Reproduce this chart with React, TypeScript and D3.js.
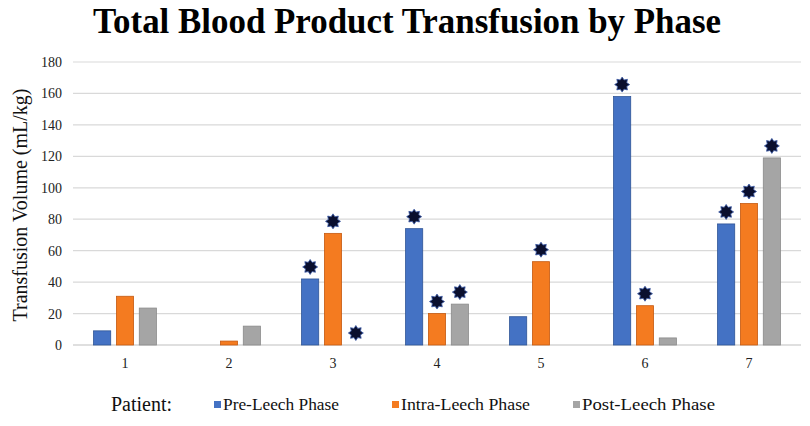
import { useEffect, useRef } from 'react'
import * as d3 from 'd3'

const patients = ['1', '2', '3', '4', '5', '6', '7']
const phases = ['Pre-Leech Phase', 'Intra-Leech Phase', 'Post-Leech Phase']
const preLeech = [9, 0, 42, 74, 18, 158, 77]
const intraLeech = [31, 2.5, 71, 20, 53, 25, 90]
const postLeech = [23.5, 12, 0, 26, 0, 4.5, 119]
// which bars carry a star marker
const preStar = [false, false, true, true, false, true, true]
const intraStar = [false, false, true, true, true, true, true]
const postStar = [false, false, true, true, false, false, true]
const yTicks = [0, 20, 40, 60, 80, 100, 120, 140, 160, 180]
const colors = ['#4472C4', '#F47B20', '#A5A5A5']
const strokes = ['#2f5597', '#c55a11', '#8a8a8a']

const W = 810
const H = 426
const serif = 'Liberation Serif, DejaVu Serif, serif'

export default function App() {
  const svgRef = useRef<SVGSVGElement>(null)

  useEffect(() => {
    document.body.style.margin = '0'
    if (!svgRef.current) return
    const svg = d3.select(svgRef.current)
    svg.selectAll('*').remove()

    const margin = { top: 62, right: 9, bottom: 81, left: 73 }
    const x0 = d3.scaleBand().domain(patients).range([margin.left, W - margin.right])
    const x1 = d3
      .scaleBand()
      .domain(phases)
      .range([0, x0.bandwidth()])
      .paddingInner(0.25)
      .paddingOuter(0.9)
    const y = d3
      .scaleLinear()
      .domain([0, 180])
      .range([H - margin.bottom, margin.top])

    svg.attr('width', W).attr('height', H).style('display', 'block').style('background', '#fff')

    // Title
    svg.append('text')
      .attr('x', 407)
      .attr('y', 33)
      .attr('text-anchor', 'middle')
      .style('font-family', serif)
      .style('font-weight', 'bold')
      .style('font-size', '36px')
      .attr('textLength', 628)
      .attr('lengthAdjust', 'spacingAndGlyphs')
      .text('Total Blood Product Transfusion by Phase')

    // Grid lines
    svg.append('g')
      .selectAll('line')
      .data(yTicks)
      .enter()
      .append('line')
      .attr('x1', margin.left)
      .attr('x2', W - margin.right)
      .attr('y1', d => y(d))
      .attr('y2', d => y(d))
      .attr('stroke', d => (d === 0 ? '#bfbfbf' : '#d9d9d9'))
      .attr('stroke-width', 1.2)

    // Y axis labels
    svg.append('g')
      .selectAll('text')
      .data(yTicks)
      .enter()
      .append('text')
      .attr('x', 62)
      .attr('y', d => y(d) + 5)
      .attr('text-anchor', 'end')
      .style('font-family', serif)
      .style('font-size', '14px')
      .attr('fill', '#222')
      .text(d => d)

    svg.append('text')
      .attr('transform', `translate(27, 205) rotate(-90)`)
      .attr('text-anchor', 'middle')
      .style('font-family', serif)
      .style('font-size', '20px')
      .attr('fill', '#111')
      .text('Transfusion Volume (mL/kg)')

    // X axis labels
    svg.append('g')
      .selectAll('text')
      .data(patients)
      .enter()
      .append('text')
      .attr('x', d => (x0(d) as number) + x0.bandwidth() / 2)
      .attr('y', 368)
      .attr('text-anchor', 'middle')
      .style('font-family', serif)
      .style('font-size', '14px')
      .attr('fill', '#222')
      .text(d => d)

    const series = [preLeech, intraLeech, postLeech]
    const stars = [preStar, intraStar, postStar]

    // Bars
    series.forEach((vals, si) => {
      svg.append('g')
        .selectAll('rect')
        .data(vals.map((v, i) => ({ p: patients[i], v })).filter(d => d.v > 0))
        .enter()
        .append('rect')
        .attr('x', d => (x0(d.p) as number) + (x1(phases[si]) as number))
        .attr('width', x1.bandwidth())
        .attr('y', d => y(d.v))
        .attr('height', d => y(0) - y(d.v))
        .attr('fill', colors[si])
        .attr('stroke', strokes[si])
        .attr('stroke-width', 0.8)
    })

    // Star markers
    const starPts: [number, number][] = d3.range(16).map(k => [
      (k * Math.PI) / 8,
      k % 2 === 0 ? 7.5 : 5,
    ])
    const starPath = d3.lineRadial().curve(d3.curveLinearClosed)(starPts) as string

    series.forEach((vals, si) => {
      svg.append('g')
        .selectAll('path')
        .data(vals.map((v, i) => ({ p: patients[i], v, s: stars[si][i] })).filter(d => d.s))
        .enter()
        .append('path')
        .attr('d', starPath)
        .attr(
          'transform',
          d =>
            `translate(${(x0(d.p) as number) + (x1(phases[si]) as number) + x1.bandwidth() / 2}, ${y(d.v) - 12})`,
        )
        .attr('fill', '#0a0f2e')
        .attr('stroke', '#3b5aa8')
        .attr('stroke-width', 0.8)
    })

    // Legend
    svg.append('text')
      .attr('x', 111)
      .attr('y', 411)
      .style('font-family', serif)
      .style('font-size', '20px')
      .attr('fill', '#111')
      .text('Patient:')

    const legendX = [214, 392, 573]
    const legendW = [116, 129, 133]
    phases.forEach((ph, i) => {
      svg.append('rect')
        .attr('x', legendX[i])
        .attr('y', 401)
        .attr('width', 7)
        .attr('height', 7)
        .attr('fill', colors[i])
      svg.append('text')
        .attr('x', legendX[i] + 9)
        .attr('y', 410)
        .style('font-family', serif)
        .style('font-size', '16px')
        .attr('fill', '#111')
        .attr('textLength', legendW[i])
        .attr('lengthAdjust', 'spacingAndGlyphs')
        .text(ph)
    })
  }, [])

  return <svg ref={svgRef} />
}
